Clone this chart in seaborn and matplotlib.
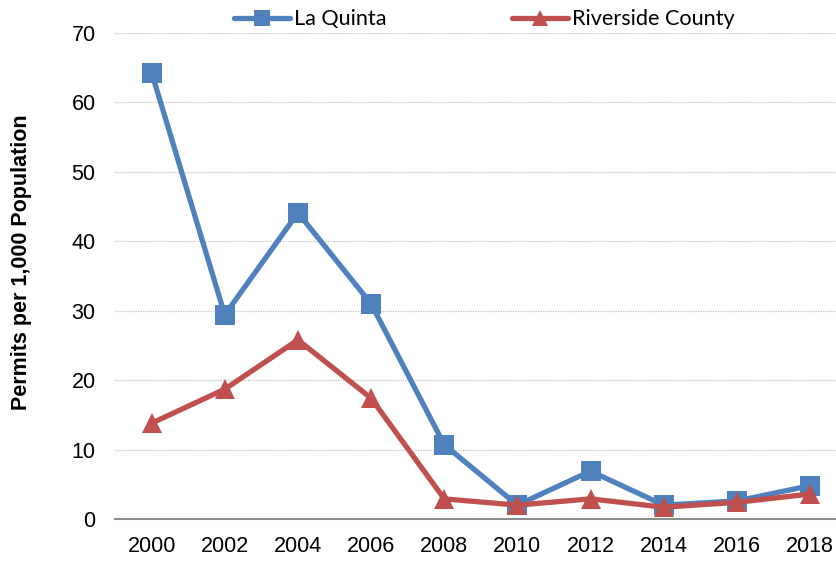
import matplotlib
matplotlib.use("Agg")
import matplotlib.pyplot as plt
import seaborn as sns
import pandas as pd

years = [2000, 2002, 2004, 2006, 2008, 2010, 2012, 2014, 2016, 2018]
la_quinta = [64.3, 29.4, 44.1, 31.0, 10.7, 2.0, 6.9, 2.0, 2.6, 4.8]
riverside = [13.8, 18.7, 25.8, 17.4, 2.9, 2.0, 2.9, 1.7, 2.4, 3.6]
series_names = ["La Quinta", "Riverside County"]
y_ticks = [0, 10, 20, 30, 40, 50, 60, 70]
y_label = "Permits per 1,000 Population"

df = pd.DataFrame({
    "Year": years * 2,
    "Value": la_quinta + riverside,
    "Series": [series_names[0]] * len(years) + [series_names[1]] * len(years),
})

sns.set_style("white")
plt.rcParams["font.family"] = ["Liberation Sans", "DejaVu Sans"]
plt.rcParams["text.color"] = "black"
plt.rcParams["xtick.color"] = "black"
plt.rcParams["ytick.color"] = "black"
plt.rcParams["axes.labelcolor"] = "black"

fig = plt.figure(figsize=(8.36, 5.65), dpi=100)
ax = fig.add_axes([0.1376, 0.0814, 0.8751, 0.8602])

palette = {series_names[0]: "#4F81BD", series_names[1]: "#C0504D"}
sns.lineplot(data=df, x="Year", y="Value", hue="Series", style="Series",
             markers={series_names[0]: "s", series_names[1]: "^"}, dashes=False,
             palette=palette, linewidth=3.8, markersize=15, markeredgewidth=0,
             ax=ax, legend=False)

ax.set_xlim(1999, 2019)
ax.set_ylim(0, 70)
ax.set_xticks(years)
ax.set_xticklabels([str(y) for y in years], fontsize=15.5)
ax.set_yticks(y_ticks)
ax.set_yticklabels([str(t) for t in y_ticks], fontsize=15.5)
ax.tick_params(axis="x", length=0, pad=12)
ax.tick_params(axis="y", length=0, pad=14)
ax.yaxis.grid(True, linestyle=(0, (1, 1)), color="#BFBFBF", linewidth=0.9)
ax.xaxis.grid(False)
for s in ["left", "right", "top"]:
    ax.spines[s].set_visible(False)
ax.spines["bottom"].set_color("#8C8C8C")
ax.spines["bottom"].set_linewidth(1.5)
ax.set_xlabel("")
ax.set_ylabel(y_label, fontsize=15.5, fontweight="bold")
ax.yaxis.set_label_coords(-0.114, 0.529)

from matplotlib.lines import Line2D
handles = [
    Line2D([], [], color="#4F81BD", marker="s", linewidth=3.8, markersize=12, markeredgewidth=0),
    Line2D([], [], color="#C0504D", marker="^", linewidth=3.8, markersize=12, markeredgewidth=0),
]
fig.legend(handles, series_names, loc="center", bbox_to_anchor=(0.5796, 0.966), ncol=2,
           frameon=False, prop={"family": ["Lato", "DejaVu Sans"], "size": 15.6},
           handlelength=2.58, handletextpad=0.18, columnspacing=5.8)

fig.savefig("out.png", dpi=100)
